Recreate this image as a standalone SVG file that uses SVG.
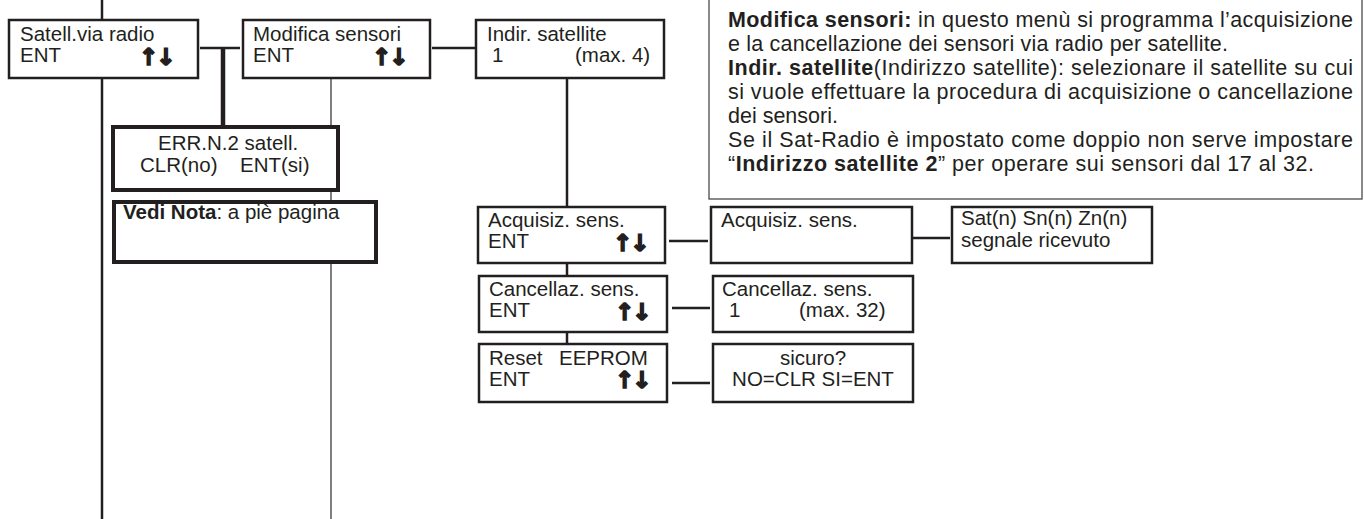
<svg xmlns="http://www.w3.org/2000/svg" width="1364" height="519" viewBox="0 0 1364 519">
<style>
  .bg{fill:#ffffff}
  .box{fill:#ffffff;stroke:#231f20;stroke-width:2.5}
  .tbox{fill:#ffffff;stroke:#231f20;stroke-width:4}
  .note{fill:#ffffff;stroke:#4a4a4a;stroke-width:1.3}
  .ln{stroke:#231f20;stroke-width:2.5;fill:none}
  .thick{stroke:#231f20;stroke-width:4.5;fill:none}
  .thin{stroke:#3a3a3a;stroke-width:1.3;fill:none}
  .t{font-family:"Liberation Sans",Arial,sans-serif;font-size:20.5px;fill:#231f20}
  .n{font-family:"Liberation Sans",Arial,sans-serif;font-size:21.5px;fill:#231f20}
  .b{font-weight:bold}
  .ar{font-family:"DejaVu Sans",sans-serif;font-weight:bold;font-size:23px;fill:#231f20;stroke:#231f20;stroke-width:1.6;letter-spacing:-2px}
</style>
<rect class="bg" x="0" y="0" width="1364" height="519"/>
<g id="connectors">
  <line class="ln" x1="102" y1="0" x2="102" y2="20"/>
  <line class="ln" x1="102" y1="78" x2="102" y2="519"/>
  <line class="ln" x1="200" y1="48" x2="240" y2="48"/>
  <line class="thick" x1="223" y1="48" x2="223" y2="127"/>
  <line class="thin" x1="331" y1="78" x2="331" y2="519"/>
  <line class="ln" x1="432" y1="48" x2="476" y2="48"/>
  <line class="ln" x1="567" y1="78" x2="567" y2="207"/>
  <line class="ln" x1="567" y1="263" x2="567" y2="276"/>
  <line class="ln" x1="567" y1="332" x2="567" y2="344"/>
  <line class="ln" x1="669" y1="241" x2="708" y2="241"/>
  <line class="ln" x1="913" y1="238" x2="950" y2="238"/>
  <line class="ln" x1="672" y1="308" x2="710" y2="308"/>
  <line class="ln" x1="672" y1="383" x2="710" y2="383"/>
</g>
<g id="satell-via-radio">
  <rect class="box" x="9" y="20" width="189" height="58"/>
  <text class="t" x="20" y="41">Satell.via radio</text>
  <text class="t" x="20" y="62">ENT</text>
  <text class="ar" x="139" y="65">↑↓</text>
</g>
<g id="modifica-sensori">
  <rect class="box" x="243" y="20" width="187" height="58"/>
  <text class="t" x="253" y="41">Modifica sensori</text>
  <text class="t" x="253" y="62">ENT</text>
  <text class="ar" x="372" y="65">↑↓</text>
</g>
<g id="err-n2">
  <rect class="tbox" x="113" y="127" width="225" height="63"/>
  <text class="t" x="158" y="150">ERR.N.2 satell.</text>
  <text class="t" x="140" y="172">CLR(no) <tspan x="240">ENT(si)</tspan></text>
</g>
<g id="vedi-nota">
  <rect class="tbox" x="114" y="202" width="262" height="60"/>
  <text class="t" x="123" y="219"><tspan class="b">Vedi Nota</tspan>: a piè pagina</text>
</g>
<g id="indir-satellite">
  <rect class="box" x="476" y="20" width="188" height="58"/>
  <text class="t" x="487" y="41">Indir. satellite</text>
  <text class="t" x="492" y="62">1 <tspan x="575">(max. 4)</tspan></text>
</g>
<g id="note">
  <rect class="note" x="709" y="-2" width="653" height="201"/>
  <text class="n" x="728" y="26.5" textLength="625" lengthAdjust="spacing"><tspan class="b">Modifica sensori:</tspan> in questo menù si programma l’acquisizione</text>
  <text class="n" x="728" y="50.5" textLength="500" lengthAdjust="spacing">e la cancellazione dei sensori via radio per satellite.</text>
  <text class="n" x="728" y="74.5" textLength="625" lengthAdjust="spacing"><tspan class="b">Indir. satellite</tspan>(Indirizzo satellite): selezionare il satellite su cui</text>
  <text class="n" x="728" y="98.5" textLength="625" lengthAdjust="spacing">si vuole effettuare la procedura di acquisizione o cancellazione</text>
  <text class="n" x="728" y="122.5">dei sensori.</text>
  <text class="n" x="728" y="146.5" textLength="625" lengthAdjust="spacing">Se il Sat-Radio è impostato come doppio non serve impostare</text>
  <text class="n" x="728" y="170.5" textLength="586" lengthAdjust="spacing">“<tspan class="b">Indirizzo satellite 2</tspan>” per operare sui sensori dal 17 al 32.</text>
</g>
<g id="acquisiz-sens">
  <rect class="box" x="478" y="207" width="187" height="56"/>
  <text class="t" x="488" y="227">Acquisiz. sens.</text>
  <text class="t" x="488" y="248">ENT</text>
  <text class="ar" x="613" y="251">↑↓</text>
</g>
<g id="acquisiz-sens-2">
  <rect class="box" x="711" y="207" width="201" height="56"/>
  <text class="t" x="721" y="227">Acquisiz. sens.</text>
</g>
<g id="segnale-ricevuto">
  <rect class="box" x="952" y="207" width="200" height="56"/>
  <text class="t" x="961" y="225">Sat(n) Sn(n) Zn(n)</text>
  <text class="t" x="961" y="247">segnale ricevuto</text>
</g>
<g id="cancellaz-sens">
  <rect class="box" x="479" y="276" width="188" height="56"/>
  <text class="t" x="489" y="296">Cancellaz. sens.</text>
  <text class="t" x="489" y="317">ENT</text>
  <text class="ar" x="615" y="320">↑↓</text>
</g>
<g id="cancellaz-sens-2">
  <rect class="box" x="713" y="276" width="200" height="56"/>
  <text class="t" x="722" y="296">Cancellaz. sens.</text>
  <text class="t" x="729" y="317">1 <tspan x="799">(max. 32)</tspan></text>
</g>
<g id="reset-eeprom">
  <rect class="box" x="479" y="344" width="188" height="58"/>
  <text class="t" x="489" y="365">Reset <tspan x="559">EEPROM</tspan></text>
  <text class="t" x="489" y="386">ENT</text>
  <text class="ar" x="615" y="388">↑↓</text>
</g>
<g id="sicuro">
  <rect class="box" x="713" y="344" width="200" height="58"/>
  <text class="t" x="813" y="365" text-anchor="middle">sicuro?</text>
  <text class="t" x="813" y="386" text-anchor="middle">NO=CLR SI=ENT</text>
</g>
</svg>
